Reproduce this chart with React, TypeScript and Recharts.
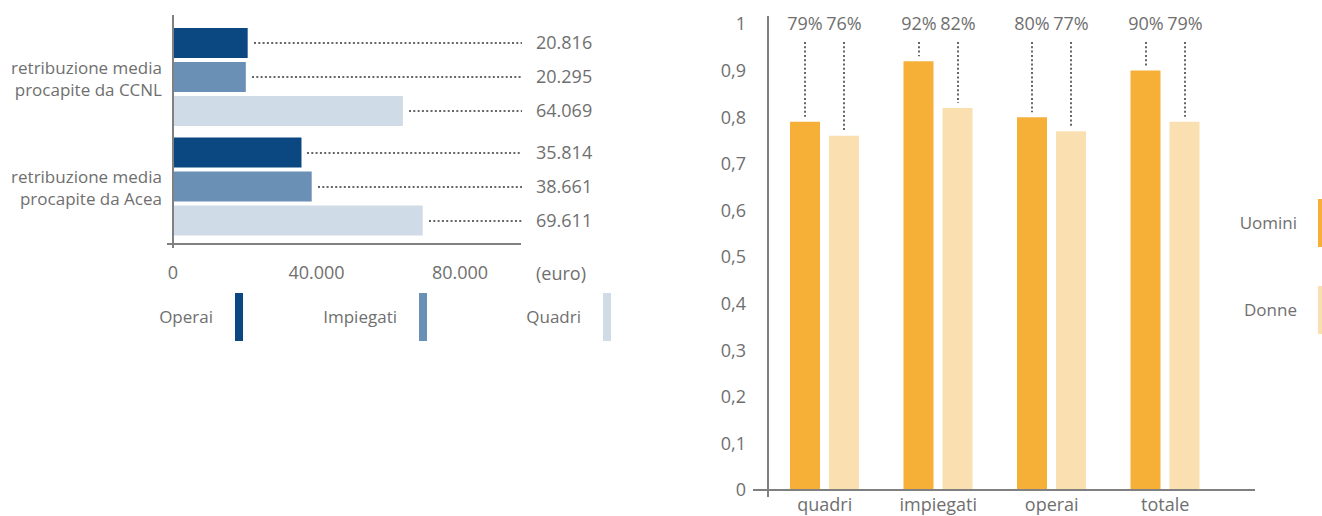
import React from 'react'
import { BarChart, Bar, XAxis, YAxis, LabelList } from 'recharts'

// left chart: retribuzione media procapite (euro)
const retribCategories = ['retribuzione media\nprocapite da CCNL', 'retribuzione media\nprocapite da Acea']
const operaiValues = [20816, 35814]
const impiegatiValues = [20295, 38661]
const quadriValues = [64069, 69611]
const euroTicks = [0, 40000, 80000]

// right chart: rapporto donne / uomini
const roles = ['quadri', 'impiegati', 'operai', 'totale']
const uominiValues = [0.79, 0.92, 0.8, 0.9]
const donneValues = [0.76, 0.82, 0.77, 0.79]
const ratioTicks = [0, 0.1, 0.2, 0.3, 0.4, 0.5, 0.6, 0.7, 0.8, 0.9, 1]

const TEXT = '#6f6f6f'
const AXIS = '#808080'
const DOTS = '#666666'
const FONT = '"Open Sans", sans-serif'

const euroSeries = [
  { key: 'operai', name: 'Operai', color: '#0b4882' },
  { key: 'impiegati', name: 'Impiegati', color: '#6b90b5' },
  { key: 'quadri', name: 'Quadri', color: '#cfdbe6' },
]
const genderSeries = [
  { key: 'uomini', name: 'Uomini', color: '#f6b038' },
  { key: 'donne', name: 'Donne', color: '#fae0b0' },
]

const euroData = retribCategories.map((name, i) => ({
  name,
  operai: operaiValues[i],
  impiegati: impiegatiValues[i],
  quadri: quadriValues[i],
}))

const genderData = roles.map((name, i) => ({
  name,
  uomini: uominiValues[i],
  donne: donneValues[i],
}))

const fmtEuro = (v: number) => String(Math.round(v)).replace(/\B(?=(\d{3})+(?!\d))/g, '.')

const LEFT_AXIS_END = 522

function box(p: any) {
  return p.viewBox && p.viewBox.width !== undefined ? p.viewBox : p
}

function EuroLabel(props: any) {
  const { x, y, width, height } = box(props)
  const cy = Math.round(y + height / 2)
  return (
    <g>
      <line
        x1={Math.round(x + width + 6)}
        x2={LEFT_AXIS_END}
        y1={cy}
        y2={cy}
        stroke={DOTS}
        strokeWidth={2}
        strokeDasharray="2 2.3"
      />
      <text x={536} y={cy} dy="0.355em" fill={TEXT} fontSize={18} fontFamily={FONT}>
        {fmtEuro(Number(props.value))}
      </text>
    </g>
  )
}

function PctLabel(props: any) {
  const { x, y, width } = box(props)
  const cx = Math.round(x + width / 2)
  return (
    <g>
      <line x1={cx} x2={cx} y1={42} y2={y - 5} stroke={DOTS} strokeWidth={2} strokeDasharray="2 2.3" />
      <text x={cx} y={24} dy="0.355em" textAnchor="middle" fill={TEXT} fontSize={18} fontFamily={FONT}>
        {Math.round(Number(props.value) * 100)}%
      </text>
    </g>
  )
}

function CategoryTick({ x, y, payload }: any) {
  const lines = String(payload.value).split('\n')
  return (
    <text x={x} y={y} textAnchor="end" fill={TEXT} fontSize={17} fontFamily={FONT}>
      {lines.map((l, i) => (
        <tspan key={i} x={x} dy={i === 0 ? -3 : 22}>
          {l}
        </tspan>
      ))}
    </text>
  )
}

const abs = (style: React.CSSProperties): React.CSSProperties => ({ position: 'absolute', ...style })

export default function App() {
  return (
    <div
      style={{
        position: 'absolute',
        left: 0,
        top: 0,
        width: 1322,
        height: 516,
        overflow: 'hidden',
        background: '#fff',
        fontFamily: FONT,
        color: TEXT,
      }}
    >
      <div style={abs({ left: 0, top: 0 })}>
        <BarChart
          width={620}
          height={290}
          data={euroData}
          layout="vertical"
          margin={{ top: 15, right: 99, bottom: 0, left: 0 }}
          barSize={30}
          barGap={4}
        >
          <XAxis
            type="number"
            domain={[0, 97000]}
            ticks={euroTicks}
            tickFormatter={fmtEuro}
            height={46}
            axisLine={{ stroke: AXIS, strokeWidth: 2 }}
            tickLine={false}
            tickSize={0}
            tickMargin={22}
            tick={{ fill: TEXT, fontSize: 18, fontFamily: FONT }}
          />
          <YAxis
            type="category"
            dataKey="name"
            width={173}
            padding={{ top: 7, bottom: 3 }}
            axisLine={{ stroke: AXIS, strokeWidth: 2 }}
            tickLine={false}
            tickSize={0}
            tickMargin={11}
            tick={<CategoryTick />}
          />
          {euroSeries.map((s) => (
            <Bar key={s.key} dataKey={s.key} name={s.name} fill={s.color} isAnimationActive={false}>
              <LabelList dataKey={s.key} content={<EuroLabel />} />
            </Bar>
          ))}
        </BarChart>
      </div>
      {/* axis stubs */}
      <div style={abs({ left: 167, top: 243, width: 6, height: 2, background: AXIS })} />
      <div style={abs({ left: 172, top: 244, width: 2, height: 4, background: AXIS })} />
      <div style={abs({ left: 536, top: 261, fontSize: 18, lineHeight: '24px' })}>(euro)</div>

      {euroSeries.map((s, i) => {
        const sx = 235 + 184 * i
        return (
          <React.Fragment key={s.key}>
            <div
              style={abs({ left: sx - 222, top: 305, width: 200, textAlign: 'right', fontSize: 17, lineHeight: '24px' })}
            >
              {s.name}
            </div>
            <div style={abs({ left: sx, top: 293, width: 8, height: 48, background: s.color })} />
          </React.Fragment>
        )
      })}

      <div style={abs({ left: 640, top: 0 })}>
        <BarChart
          width={682}
          height={516}
          data={genderData}
          margin={{ top: 16, right: 67, bottom: 0, left: 0 }}
          barSize={30}
          barGap={9}
        >
          <XAxis
            dataKey="name"
            height={26}
            padding={{ left: 0, right: 33 }}
            axisLine={{ stroke: AXIS, strokeWidth: 2 }}
            tickLine={false}
            tickSize={0}
            tickMargin={8}
            tick={{ fill: TEXT, fontSize: 18, fontFamily: FONT }}
          />
          <YAxis
            type="number"
            domain={[0, 1]}
            ticks={ratioTicks}
            tickFormatter={(v: number) => String(v).replace('.', ',')}
            width={128}
            padding={{ top: 8, bottom: 0 }}
            axisLine={{ stroke: AXIS, strokeWidth: 2 }}
            tickLine={false}
            tickSize={0}
            tickMargin={22}
            tick={{ fill: TEXT, fontSize: 18, fontFamily: FONT }}
          />
          {genderSeries.map((s) => (
            <Bar key={s.key} dataKey={s.key} name={s.name} fill={s.color} isAnimationActive={false}>
              <LabelList dataKey={s.key} content={<PctLabel />} />
            </Bar>
          ))}
        </BarChart>
      </div>
      <div style={abs({ left: 753, top: 489, width: 15, height: 2, background: AXIS })} />
      <div style={abs({ left: 767, top: 490, width: 2, height: 7, background: AXIS })} />

      {genderSeries.map((s, i) => {
        const sy = 199 + 87 * i
        return (
          <React.Fragment key={s.key}>
            <div
              style={abs({ left: 1097, top: sy + 12, width: 200, textAlign: 'right', fontSize: 17, lineHeight: '24px' })}
            >
              {s.name}
            </div>
            <div style={abs({ left: 1318, top: sy, width: 8, height: 48, background: s.color })} />
          </React.Fragment>
        )
      })}
    </div>
  )
}
